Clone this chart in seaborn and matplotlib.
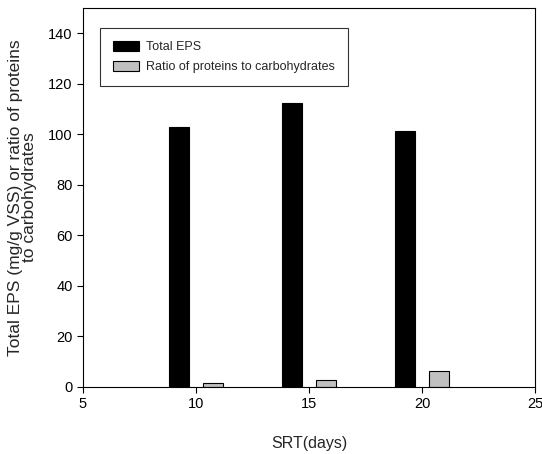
import numpy as np
import pandas as pd
import matplotlib
matplotlib.use("Agg")
import matplotlib.pyplot as plt
import seaborn as sns
from matplotlib.patches import Patch

# data
srt_days = [10, 15, 20]
total_eps = [103.1, 112.3, 101.5]
ratio_pc = [1.7, 2.5, 6.2]
series_names = ["Total EPS", "Ratio of proteins to carbohydrates"]

df = pd.DataFrame({
    "SRT": srt_days * 2,
    "value": total_eps + ratio_pc,
    "series": [series_names[0]] * 3 + [series_names[1]] * 3,
})

sns.set_theme(style="ticks")
plt.rcParams["font.family"] = ["Liberation Sans", "DejaVu Sans"]

fig = plt.figure(figsize=(5.42, 4.54), dpi=100)
ax = fig.add_axes([0.153, 0.148, 0.834, 0.834])

palette = {series_names[0]: "black", series_names[1]: "#c0c0c0"}
sns.barplot(data=df, x="SRT", y="value", hue="series", native_scale=True,
            dodge=True, width=0.6, gap=0.4, palette=palette,
            edgecolor="black", linewidth=0.8, saturation=1, ax=ax, legend=False)

ax.set_xlim(5, 25)
ax.set_ylim(0, 150)
ax.set_xticks([5, 10, 15, 20, 25])
ax.set_yticks(np.arange(0, 141, 20))
ax.tick_params(direction="out", length=4, width=0.8, labelsize=10.5, colors="black")
for s in ax.spines.values():
    s.set_visible(True)
    s.set_color("black")
    s.set_linewidth(0.8)

ax.set_xlabel("SRT(days)", fontsize=11.5, labelpad=18)
ax.set_ylabel("Total EPS (mg/g VSS) or ratio of proteins\nto carbohydrates",
              fontsize=12.5, linespacing=0.88, labelpad=8)

handles = [Patch(facecolor=palette[n], edgecolor="black", linewidth=0.8) for n in series_names]
leg = ax.legend(handles, series_names, loc="upper left", bbox_to_anchor=(0.038, 0.947),
                borderaxespad=0, frameon=True, fancybox=False, fontsize=9,
                handlelength=2.1, handleheight=0.9, borderpad=1.0, labelspacing=0.6,
                handletextpad=0.6)
leg.get_frame().set_edgecolor("black")
leg.get_frame().set_linewidth(0.8)

fig.savefig("out.png", dpi=100)
